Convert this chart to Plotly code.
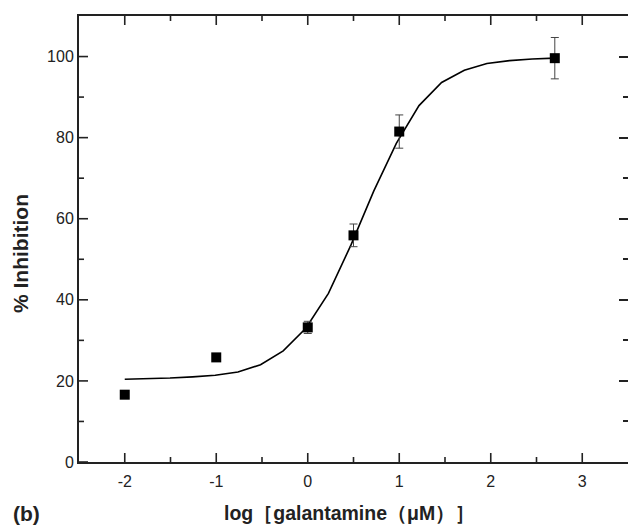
import plotly.graph_objects as go

# measured data
conc_log = [-2, -1, 0, 0.5, 1, 2.7]
inhibition = [16.6, 25.8, 33.2, 55.9, 81.5, 99.6]
inhibition_err = [0.6, 0.9, 1.5, 2.8, 4.1, 5.1]

# fitted curve
fit_x = [-2.0, -1.753, -1.505, -1.258, -1.011, -0.763, -0.516, -0.268, -0.021, 0.226,
         0.474, 0.721, 0.968, 1.216, 1.463, 1.711, 1.958, 2.205, 2.453, 2.7]
fit_y = [20.4, 20.5, 20.7, 21.0, 21.4, 22.2, 24.0, 27.4, 33.0, 41.6,
         53.6, 66.8, 78.6, 87.9, 93.6, 96.6, 98.3, 99.0, 99.4, 99.6]

x_ticks = [-2, -1, 0, 1, 2, 3]
x_labels = ["-2", "-1", "0", "1", "2", "3"]
x_minor = [-1.5, -0.5, 0.5, 1.5, 2.5]
y_ticks = [0, 20, 40, 60, 80, 100]
y_labels = ["0", "20", "40", "60", "80", "100"]
y_minor = [10, 30, 50, 70, 90]

FONT = "Arial, 'Liberation Sans', sans-serif"
AX = "#222222"
X_RANGE = [-2.5, 3.5]
Y_RANGE = [0, 110]
MAJ, MIN = 9, 5

fig = go.Figure()
fig.add_trace(go.Scatter(x=fit_x, y=fit_y, mode="lines",
                         line=dict(color="black", width=1.6), showlegend=False))
fig.add_trace(go.Scatter(x=conc_log, y=inhibition, mode="markers",
                         marker=dict(symbol="square", size=10, color="black"),
                         error_y=dict(type="data", array=inhibition_err, color="#444444",
                                      thickness=1, width=4),
                         showlegend=False))
# invisible trace to carry the right-hand tick axis
fig.add_trace(go.Scatter(x=[conc_log[0]], y=[inhibition[0]], yaxis="y2",
                         mode="markers", marker=dict(opacity=0), showlegend=False,
                         hoverinfo="skip"))

# inner tick marks on left, bottom and top edges, placed through the axis scales
shapes = []
tick_line = dict(color=AX, width=1.6)
for v, ln in [(t, MAJ) for t in y_ticks] + [(t, MIN) for t in y_minor]:
    shapes.append(dict(type="line", xref="x", yref="y", xsizemode="pixel",
                       xanchor=X_RANGE[0], x0=0, x1=ln, y0=v, y1=v, line=tick_line))
for v, ln in [(t, MAJ) for t in x_ticks] + [(t, MIN) for t in x_minor]:
    shapes.append(dict(type="line", xref="x", yref="y", ysizemode="pixel",
                       yanchor=Y_RANGE[0], y0=0, y1=ln, x0=v, x1=v, line=tick_line))
    shapes.append(dict(type="line", xref="x", yref="y", ysizemode="pixel",
                       yanchor=Y_RANGE[1], y0=0, y1=-ln, x0=v, x1=v, line=tick_line))

minor_common = dict(ticks="inside", ticklen=MIN, tickwidth=1.5, tickcolor=AX)

fig.update_layout(
    width=628, height=525,
    margin=dict(l=79, r=0, t=16, b=63),
    paper_bgcolor="white", plot_bgcolor="white",
    font=dict(family=FONT, size=16, color="#222222"),
    shapes=shapes,
    xaxis=dict(range=X_RANGE, tickvals=x_ticks, ticktext=x_labels,
               showgrid=False, zeroline=False, showline=True, linecolor=AX, linewidth=2,
               mirror=True, ticks="", ticklabelstandoff=4,
               tickfont=dict(size=16, family=FONT)),
    yaxis=dict(range=Y_RANGE, tickvals=y_ticks, ticktext=y_labels,
               showgrid=False, zeroline=False, showline=True, linecolor=AX, linewidth=2,
               mirror=False, ticks="",
               tickfont=dict(size=16, family=FONT)),
    yaxis2=dict(range=Y_RANGE, overlaying="y", side="right",
                tickvals=y_ticks, showticklabels=False, showgrid=False, zeroline=False,
                showline=False, ticks="inside", ticklen=MAJ, tickwidth=1.5,
                tickcolor=AX, minor=dict(dtick=10, tick0=0, **minor_common)),
    annotations=[
        dict(text="<b>% Inhibition</b>", xref="paper", yref="paper", x=0, y=0.5,
             xanchor="center", yanchor="middle",
             xshift=-59, yshift=-15, textangle=-90, showarrow=False,
             font=dict(size=21, family=FONT, color="#222222")),
        dict(text="<b>log［galantamine（μM）］</b>", xref="paper", yref="paper",
             x=0.4936, y=0, xanchor="center", yanchor="middle", yshift=-51, showarrow=False,
             font=dict(size=19.5, family=FONT, color="#222222")),
        dict(text="<b>(b)</b>", xref="paper", yref="paper", x=0, y=0,
             xanchor="left", yanchor="middle",
             xshift=-68, yshift=-51, showarrow=False,
             font=dict(size=21, family=FONT, color="#222222")),
    ],
)

fig.write_html("out.html")
